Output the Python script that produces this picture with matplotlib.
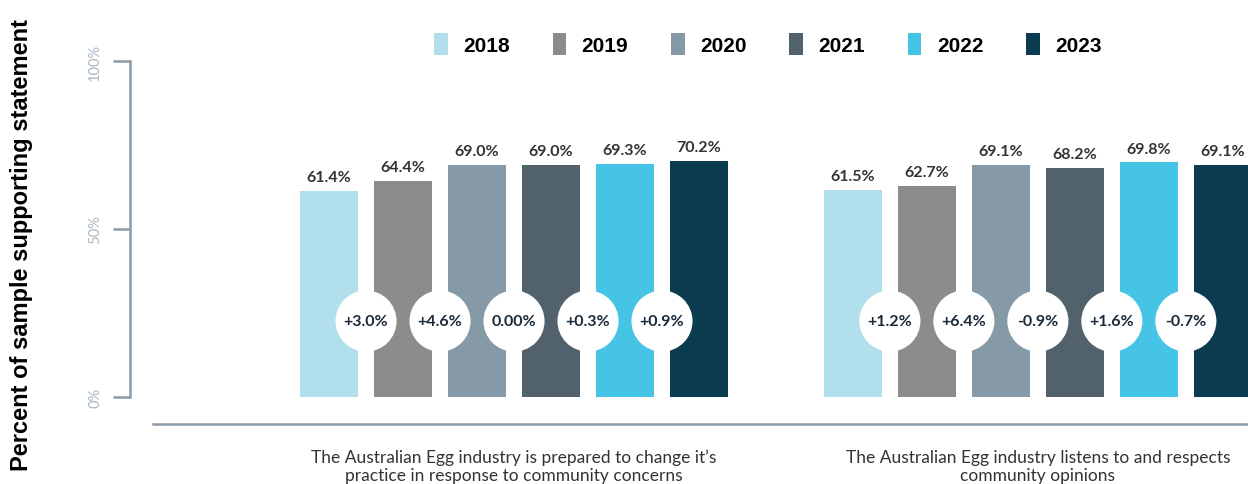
import matplotlib
matplotlib.use("Agg")
import matplotlib.pyplot as plt
from matplotlib.patches import Patch
import numpy as np

years = ["2018", "2019", "2020", "2021", "2022", "2023"]
colors = ["#b1e0ec", "#8b8d8a", "#8699a6", "#52626d", "#45c4e5", "#0b3b4e"]
categories = ["The Australian Egg industry is prepared to change it\u2019s\npractice in response to community concerns",
              "The Australian Egg industry listens to and respects\ncommunity opinions"]
values = [[61.4, 64.4, 69.0, 69.0, 69.3, 70.2],
          [61.5, 62.7, 69.1, 68.2, 69.8, 69.1]]
changes = [["+3.0%", "+4.6%", "0.00%", "+0.3%", "+0.9%"],
           ["+1.2%", "+6.4%", "-0.9%", "+1.6%", "-0.7%"]]

W, H = 1248, 485
fig = plt.figure(figsize=(W / 100, H / 100), dpi=100)
ax = fig.add_axes([130 / W, (H - 425) / H, 1118 / W, 363 / H])

group_gap = 7.08
bar_w = 0.784
circle_y = 22.6

for g, vals in enumerate(values):
    xs = np.arange(len(vals)) + g * group_gap
    for i, (x, v) in enumerate(zip(xs, vals)):
        ax.bar(x, v, width=bar_w, color=colors[i], zorder=2)
        ax.annotate(f"{v:.1f}%", (x, v), xytext=(0, 5), textcoords="offset points",
                    ha="center", va="bottom", fontsize=11.5, fontweight="bold",
                    color="#333333", family="Lato")
    mids = (xs[:-1] + xs[1:]) / 2
    ax.scatter(mids, [circle_y] * len(mids), s=1936, color="white", zorder=3,
               edgecolors="none")
    for m, c in zip(mids, changes[g]):
        ax.text(m, circle_y, c, ha="center", va="center", fontsize=11.5,
                fontweight="bold", color="#1a2a3a", family="Lato", zorder=4)

ax.set_xlim(-2.69, 12.42)
ax.set_ylim(-8.04, 100)

for s in ["top", "right"]:
    ax.spines[s].set_visible(False)
ax.spines["left"].set_bounds(0, 100)
ax.spines["left"].set_color("#8a9aa8")
ax.spines["left"].set_linewidth(1.8)
ax.spines["bottom"].set_bounds(-2.378, 12.42)
ax.spines["bottom"].set_color("#8a9aa8")
ax.spines["bottom"].set_linewidth(1.8)

ax.set_yticks([0, 50, 100])
ax.set_yticklabels(["0%", "50%", "100%"], rotation=90, va="center",
                   color="#aab8c3", fontsize=10.5, family="Lato")
ax.tick_params(axis="y", length=12, width=1.8, color="#8a9aa8", pad=8)

centers = [2.5 + g * group_gap for g in range(len(categories))]
ax.set_xticks(centers)
ax.set_xticklabels(categories, fontsize=12.5, color="#333333", family="Lato",
                   linespacing=1.15)
ax.tick_params(axis="x", length=0, pad=18)

fig.text(22 / W, 1 - 245 / H, "Percent of sample supporting statement", rotation=90,
         ha="center", va="center", fontsize=17, fontweight="bold",
         family="Liberation Sans", color="#000000")

handles = [Patch(facecolor=c, edgecolor="none") for c in colors]
fig.legend(handles, years, loc="center", bbox_to_anchor=(768 / W, 1 - 45 / H),
           ncol=6, frameon=False, handlelength=0.65, handleheight=1.2,
           handletextpad=0.75, columnspacing=2.05,
           prop={"family": ["Liberation Sans Narrow", "Liberation Sans"],
                 "weight": "bold", "size": 15})

fig.savefig("out.png", dpi=100)
